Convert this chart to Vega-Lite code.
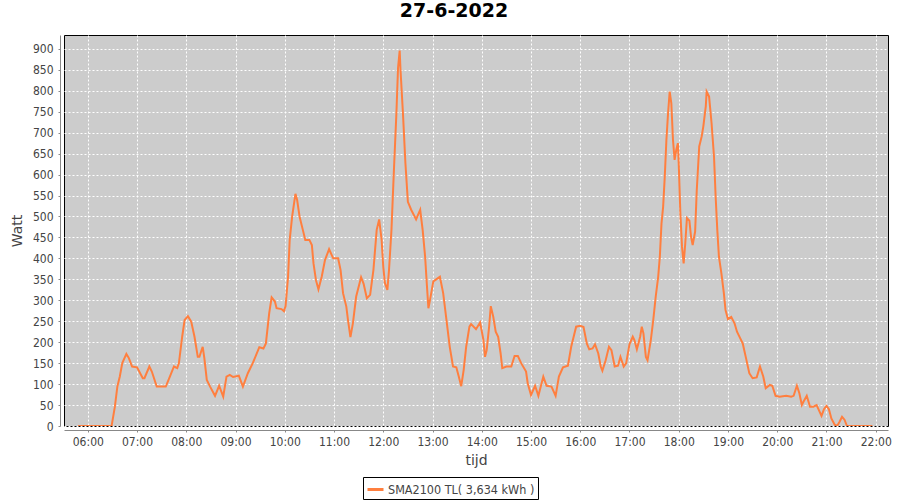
{
  "$schema": "https://vega.github.io/schema/vega-lite/v6.json",
  "autosize": "none",
  "width": 824,
  "height": 391,
  "padding": {"left": 64, "top": 35, "right": 12, "bottom": 74},
  "background": "white",
  "title": {"text": "27-6-2022", "font": "DejaVu Sans", "fontSize": 19, "fontWeight": "bold", "color": "black", "anchor": "middle", "dx": -22, "offset": 14},
  "config": {
    "view": {"fill": "#CCCCCC", "stroke": "black", "strokeWidth": 1},
    "axis": {"labelFont": "DejaVu Sans Condensed", "labelFontSize": 12, "labelColor": "#444444", "titleFont": "DejaVu Sans", "titleFontSize": 14, "titleFontWeight": "normal", "titleColor": "#444444", "domainColor": "#888888", "tickColor": "#888888", "gridColor": "white", "gridDash": [2, 2], "gridWidth": 1, "gridOpacity": 1}
  },
  "data": {"values": [
    {"t": "2022-06-27 05:48", "w": 0},
    {"t": "2022-06-27 06:23", "w": 0},
    {"t": "2022-06-27 06:29", "w": 0},
    {"t": "2022-06-27 06:33", "w": 46},
    {"t": "2022-06-27 06:36", "w": 94},
    {"t": "2022-06-27 06:39", "w": 118},
    {"t": "2022-06-27 06:42", "w": 150},
    {"t": "2022-06-27 06:47", "w": 172},
    {"t": "2022-06-27 06:50", "w": 162},
    {"t": "2022-06-27 06:54", "w": 142},
    {"t": "2022-06-27 07:00", "w": 140},
    {"t": "2022-06-27 07:07", "w": 114},
    {"t": "2022-06-27 07:09", "w": 114},
    {"t": "2022-06-27 07:15", "w": 142},
    {"t": "2022-06-27 07:18", "w": 130},
    {"t": "2022-06-27 07:24", "w": 94},
    {"t": "2022-06-27 07:35", "w": 94},
    {"t": "2022-06-27 07:40", "w": 118},
    {"t": "2022-06-27 07:45", "w": 142},
    {"t": "2022-06-27 07:49", "w": 138},
    {"t": "2022-06-27 07:51", "w": 150},
    {"t": "2022-06-27 07:55", "w": 213},
    {"t": "2022-06-27 07:58", "w": 253},
    {"t": "2022-06-27 08:02", "w": 262},
    {"t": "2022-06-27 08:06", "w": 249},
    {"t": "2022-06-27 08:10", "w": 213},
    {"t": "2022-06-27 08:14", "w": 165},
    {"t": "2022-06-27 08:16", "w": 165},
    {"t": "2022-06-27 08:20", "w": 189},
    {"t": "2022-06-27 08:22", "w": 162},
    {"t": "2022-06-27 08:25", "w": 110},
    {"t": "2022-06-27 08:29", "w": 94},
    {"t": "2022-06-27 08:35", "w": 72},
    {"t": "2022-06-27 08:40", "w": 96},
    {"t": "2022-06-27 08:45", "w": 70},
    {"t": "2022-06-27 08:49", "w": 118},
    {"t": "2022-06-27 08:53", "w": 122},
    {"t": "2022-06-27 08:57", "w": 117},
    {"t": "2022-06-27 09:04", "w": 120},
    {"t": "2022-06-27 09:09", "w": 94},
    {"t": "2022-06-27 09:15", "w": 126},
    {"t": "2022-06-27 09:21", "w": 150},
    {"t": "2022-06-27 09:29", "w": 188},
    {"t": "2022-06-27 09:34", "w": 185},
    {"t": "2022-06-27 09:37", "w": 197},
    {"t": "2022-06-27 09:41", "w": 269},
    {"t": "2022-06-27 09:44", "w": 307},
    {"t": "2022-06-27 09:48", "w": 297},
    {"t": "2022-06-27 09:50", "w": 281},
    {"t": "2022-06-27 09:56", "w": 279},
    {"t": "2022-06-27 09:59", "w": 274},
    {"t": "2022-06-27 10:01", "w": 286},
    {"t": "2022-06-27 10:04", "w": 356},
    {"t": "2022-06-27 10:06", "w": 444},
    {"t": "2022-06-27 10:09", "w": 500},
    {"t": "2022-06-27 10:13", "w": 554},
    {"t": "2022-06-27 10:15", "w": 540},
    {"t": "2022-06-27 10:18", "w": 500},
    {"t": "2022-06-27 10:22", "w": 468},
    {"t": "2022-06-27 10:25", "w": 444},
    {"t": "2022-06-27 10:30", "w": 444},
    {"t": "2022-06-27 10:33", "w": 432},
    {"t": "2022-06-27 10:35", "w": 388},
    {"t": "2022-06-27 10:38", "w": 348},
    {"t": "2022-06-27 10:41", "w": 326},
    {"t": "2022-06-27 10:45", "w": 356},
    {"t": "2022-06-27 10:49", "w": 396},
    {"t": "2022-06-27 10:54", "w": 422},
    {"t": "2022-06-27 10:59", "w": 400},
    {"t": "2022-06-27 11:05", "w": 400},
    {"t": "2022-06-27 11:08", "w": 372},
    {"t": "2022-06-27 11:11", "w": 317},
    {"t": "2022-06-27 11:15", "w": 285},
    {"t": "2022-06-27 11:17", "w": 253},
    {"t": "2022-06-27 11:20", "w": 212},
    {"t": "2022-06-27 11:23", "w": 245},
    {"t": "2022-06-27 11:27", "w": 309},
    {"t": "2022-06-27 11:33", "w": 355},
    {"t": "2022-06-27 11:36", "w": 340},
    {"t": "2022-06-27 11:40", "w": 305},
    {"t": "2022-06-27 11:44", "w": 313},
    {"t": "2022-06-27 11:48", "w": 372},
    {"t": "2022-06-27 11:52", "w": 468},
    {"t": "2022-06-27 11:55", "w": 493},
    {"t": "2022-06-27 11:58", "w": 444},
    {"t": "2022-06-27 12:00", "w": 380},
    {"t": "2022-06-27 12:02", "w": 341},
    {"t": "2022-06-27 12:05", "w": 325},
    {"t": "2022-06-27 12:07", "w": 372},
    {"t": "2022-06-27 12:10", "w": 468},
    {"t": "2022-06-27 12:13", "w": 611},
    {"t": "2022-06-27 12:16", "w": 746},
    {"t": "2022-06-27 12:18", "w": 854},
    {"t": "2022-06-27 12:20", "w": 896},
    {"t": "2022-06-27 12:21", "w": 850},
    {"t": "2022-06-27 12:24", "w": 746},
    {"t": "2022-06-27 12:27", "w": 627},
    {"t": "2022-06-27 12:30", "w": 535},
    {"t": "2022-06-27 12:34", "w": 516},
    {"t": "2022-06-27 12:40", "w": 493},
    {"t": "2022-06-27 12:45", "w": 516},
    {"t": "2022-06-27 12:48", "w": 468},
    {"t": "2022-06-27 12:51", "w": 404},
    {"t": "2022-06-27 12:53", "w": 341},
    {"t": "2022-06-27 12:55", "w": 281},
    {"t": "2022-06-27 12:57", "w": 301},
    {"t": "2022-06-27 13:01", "w": 345},
    {"t": "2022-06-27 13:09", "w": 356},
    {"t": "2022-06-27 13:13", "w": 317},
    {"t": "2022-06-27 13:17", "w": 253},
    {"t": "2022-06-27 13:21", "w": 189},
    {"t": "2022-06-27 13:25", "w": 142},
    {"t": "2022-06-27 13:29", "w": 140},
    {"t": "2022-06-27 13:32", "w": 118},
    {"t": "2022-06-27 13:35", "w": 95},
    {"t": "2022-06-27 13:38", "w": 134},
    {"t": "2022-06-27 13:41", "w": 189},
    {"t": "2022-06-27 13:45", "w": 237},
    {"t": "2022-06-27 13:47", "w": 243},
    {"t": "2022-06-27 13:53", "w": 231},
    {"t": "2022-06-27 13:58", "w": 247},
    {"t": "2022-06-27 14:02", "w": 206},
    {"t": "2022-06-27 14:04", "w": 165},
    {"t": "2022-06-27 14:06", "w": 181},
    {"t": "2022-06-27 14:09", "w": 237},
    {"t": "2022-06-27 14:11", "w": 286},
    {"t": "2022-06-27 14:14", "w": 261},
    {"t": "2022-06-27 14:17", "w": 225},
    {"t": "2022-06-27 14:20", "w": 213},
    {"t": "2022-06-27 14:23", "w": 173},
    {"t": "2022-06-27 14:25", "w": 138},
    {"t": "2022-06-27 14:30", "w": 142},
    {"t": "2022-06-27 14:36", "w": 142},
    {"t": "2022-06-27 14:40", "w": 167},
    {"t": "2022-06-27 14:44", "w": 167},
    {"t": "2022-06-27 14:48", "w": 150},
    {"t": "2022-06-27 14:54", "w": 130},
    {"t": "2022-06-27 14:56", "w": 102},
    {"t": "2022-06-27 15:00", "w": 74},
    {"t": "2022-06-27 15:05", "w": 96},
    {"t": "2022-06-27 15:09", "w": 72},
    {"t": "2022-06-27 15:15", "w": 118},
    {"t": "2022-06-27 15:19", "w": 96},
    {"t": "2022-06-27 15:25", "w": 94},
    {"t": "2022-06-27 15:30", "w": 72},
    {"t": "2022-06-27 15:34", "w": 118},
    {"t": "2022-06-27 15:39", "w": 140},
    {"t": "2022-06-27 15:45", "w": 144},
    {"t": "2022-06-27 15:49", "w": 189},
    {"t": "2022-06-27 15:55", "w": 237},
    {"t": "2022-06-27 16:00", "w": 239},
    {"t": "2022-06-27 16:04", "w": 236},
    {"t": "2022-06-27 16:08", "w": 197},
    {"t": "2022-06-27 16:11", "w": 183},
    {"t": "2022-06-27 16:15", "w": 185},
    {"t": "2022-06-27 16:18", "w": 195},
    {"t": "2022-06-27 16:22", "w": 173},
    {"t": "2022-06-27 16:25", "w": 142},
    {"t": "2022-06-27 16:27", "w": 132},
    {"t": "2022-06-27 16:31", "w": 157},
    {"t": "2022-06-27 16:35", "w": 189},
    {"t": "2022-06-27 16:38", "w": 181},
    {"t": "2022-06-27 16:42", "w": 142},
    {"t": "2022-06-27 16:46", "w": 144},
    {"t": "2022-06-27 16:49", "w": 165},
    {"t": "2022-06-27 16:53", "w": 142},
    {"t": "2022-06-27 16:56", "w": 150},
    {"t": "2022-06-27 17:00", "w": 195},
    {"t": "2022-06-27 17:04", "w": 213},
    {"t": "2022-06-27 17:06", "w": 205},
    {"t": "2022-06-27 17:09", "w": 183},
    {"t": "2022-06-27 17:13", "w": 213},
    {"t": "2022-06-27 17:15", "w": 237},
    {"t": "2022-06-27 17:17", "w": 221},
    {"t": "2022-06-27 17:20", "w": 165},
    {"t": "2022-06-27 17:22", "w": 157},
    {"t": "2022-06-27 17:26", "w": 205},
    {"t": "2022-06-27 17:29", "w": 253},
    {"t": "2022-06-27 17:32", "w": 309},
    {"t": "2022-06-27 17:35", "w": 356},
    {"t": "2022-06-27 17:37", "w": 404},
    {"t": "2022-06-27 17:39", "w": 483},
    {"t": "2022-06-27 17:41", "w": 523},
    {"t": "2022-06-27 17:43", "w": 595},
    {"t": "2022-06-27 17:45", "w": 683},
    {"t": "2022-06-27 17:47", "w": 746},
    {"t": "2022-06-27 17:49", "w": 798},
    {"t": "2022-06-27 17:51", "w": 770},
    {"t": "2022-06-27 17:53", "w": 683},
    {"t": "2022-06-27 17:55", "w": 635},
    {"t": "2022-06-27 17:57", "w": 659},
    {"t": "2022-06-27 17:59", "w": 675},
    {"t": "2022-06-27 18:00", "w": 627},
    {"t": "2022-06-27 18:02", "w": 508},
    {"t": "2022-06-27 18:04", "w": 428},
    {"t": "2022-06-27 18:06", "w": 388},
    {"t": "2022-06-27 18:08", "w": 436},
    {"t": "2022-06-27 18:10", "w": 496},
    {"t": "2022-06-27 18:13", "w": 490},
    {"t": "2022-06-27 18:15", "w": 452},
    {"t": "2022-06-27 18:17", "w": 432},
    {"t": "2022-06-27 18:20", "w": 464},
    {"t": "2022-06-27 18:22", "w": 563},
    {"t": "2022-06-27 18:25", "w": 667},
    {"t": "2022-06-27 18:28", "w": 691},
    {"t": "2022-06-27 18:30", "w": 715},
    {"t": "2022-06-27 18:33", "w": 763},
    {"t": "2022-06-27 18:34", "w": 798},
    {"t": "2022-06-27 18:37", "w": 786},
    {"t": "2022-06-27 18:40", "w": 723},
    {"t": "2022-06-27 18:43", "w": 643},
    {"t": "2022-06-27 18:45", "w": 547},
    {"t": "2022-06-27 18:47", "w": 468},
    {"t": "2022-06-27 18:49", "w": 404},
    {"t": "2022-06-27 18:52", "w": 364},
    {"t": "2022-06-27 18:55", "w": 317},
    {"t": "2022-06-27 18:57", "w": 277},
    {"t": "2022-06-27 19:00", "w": 255},
    {"t": "2022-06-27 19:04", "w": 260},
    {"t": "2022-06-27 19:08", "w": 245},
    {"t": "2022-06-27 19:11", "w": 225},
    {"t": "2022-06-27 19:15", "w": 209},
    {"t": "2022-06-27 19:18", "w": 197},
    {"t": "2022-06-27 19:22", "w": 162},
    {"t": "2022-06-27 19:26", "w": 126},
    {"t": "2022-06-27 19:30", "w": 114},
    {"t": "2022-06-27 19:35", "w": 116},
    {"t": "2022-06-27 19:39", "w": 142},
    {"t": "2022-06-27 19:43", "w": 118},
    {"t": "2022-06-27 19:46", "w": 90},
    {"t": "2022-06-27 19:51", "w": 98},
    {"t": "2022-06-27 19:54", "w": 96},
    {"t": "2022-06-27 19:58", "w": 72},
    {"t": "2022-06-27 20:03", "w": 70},
    {"t": "2022-06-27 20:11", "w": 72},
    {"t": "2022-06-27 20:17", "w": 70},
    {"t": "2022-06-27 20:20", "w": 72},
    {"t": "2022-06-27 20:24", "w": 96},
    {"t": "2022-06-27 20:27", "w": 78},
    {"t": "2022-06-27 20:30", "w": 50},
    {"t": "2022-06-27 20:32", "w": 58},
    {"t": "2022-06-27 20:36", "w": 72},
    {"t": "2022-06-27 20:40", "w": 46},
    {"t": "2022-06-27 20:44", "w": 46},
    {"t": "2022-06-27 20:48", "w": 50},
    {"t": "2022-06-27 20:54", "w": 24},
    {"t": "2022-06-27 20:57", "w": 40},
    {"t": "2022-06-27 21:00", "w": 48},
    {"t": "2022-06-27 21:03", "w": 40},
    {"t": "2022-06-27 21:06", "w": 18},
    {"t": "2022-06-27 21:10", "w": 3},
    {"t": "2022-06-27 21:13", "w": 0},
    {"t": "2022-06-27 21:16", "w": 10},
    {"t": "2022-06-27 21:19", "w": 22},
    {"t": "2022-06-27 21:22", "w": 15},
    {"t": "2022-06-27 21:25", "w": 0},
    {"t": "2022-06-27 21:28", "w": 0},
    {"t": "2022-06-27 21:56", "w": 0}
  ]},
  "mark": {"type": "line", "strokeWidth": 2, "clip": true},
  "encoding": {
    "x": {"field": "t", "type": "temporal", "title": "tijd",
      "scale": {"domain": [{"year": 2022, "month": 6, "date": 27, "hours": 5, "minutes": 31}, {"year": 2022, "month": 6, "date": 27, "hours": 22, "minutes": 15}]},
      "axis": {"format": "%H:%M", "values": [
        {"year": 2022, "month": 6, "date": 27, "hours": 6},
        {"year": 2022, "month": 6, "date": 27, "hours": 7},
        {"year": 2022, "month": 6, "date": 27, "hours": 8},
        {"year": 2022, "month": 6, "date": 27, "hours": 9},
        {"year": 2022, "month": 6, "date": 27, "hours": 10},
        {"year": 2022, "month": 6, "date": 27, "hours": 11},
        {"year": 2022, "month": 6, "date": 27, "hours": 12},
        {"year": 2022, "month": 6, "date": 27, "hours": 13},
        {"year": 2022, "month": 6, "date": 27, "hours": 14},
        {"year": 2022, "month": 6, "date": 27, "hours": 15},
        {"year": 2022, "month": 6, "date": 27, "hours": 16},
        {"year": 2022, "month": 6, "date": 27, "hours": 17},
        {"year": 2022, "month": 6, "date": 27, "hours": 18},
        {"year": 2022, "month": 6, "date": 27, "hours": 19},
        {"year": 2022, "month": 6, "date": 27, "hours": 20},
        {"year": 2022, "month": 6, "date": 27, "hours": 21},
        {"year": 2022, "month": 6, "date": 27, "hours": 22}
      ], "offset": 4, "tickSize": 2, "labelPadding": 4, "titlePadding": 6, "labelFlush": false, "labelOverlap": false}},
    "y": {"field": "w", "type": "quantitative", "title": "Watt",
      "scale": {"domain": [0, 933], "nice": false},
      "axis": {"values": [0,50,100,150,200,250,300,350,400,450,500,550,600,650,700,750,800,850,900], "offset": 4, "tickSize": 2, "labelPadding": 5, "titlePadding": 8}},
    "color": {"datum": "SMA2100 TL( 3,634 kWh )", "type": "nominal", "scale": {"range": ["#FF7F3F"]},
      "legend": {"title": null, "orient": "none", "legendX": 299, "legendY": 442, "strokeColor": "black", "fillColor": "white", "padding": 3, "labelFont": "DejaVu Sans Condensed", "labelFontSize": 12.5, "labelColor": "#444444", "labelLimit": 300, "symbolSize": 256, "symbolStrokeWidth": 3, "labelOffset": 3}}
  }
}
